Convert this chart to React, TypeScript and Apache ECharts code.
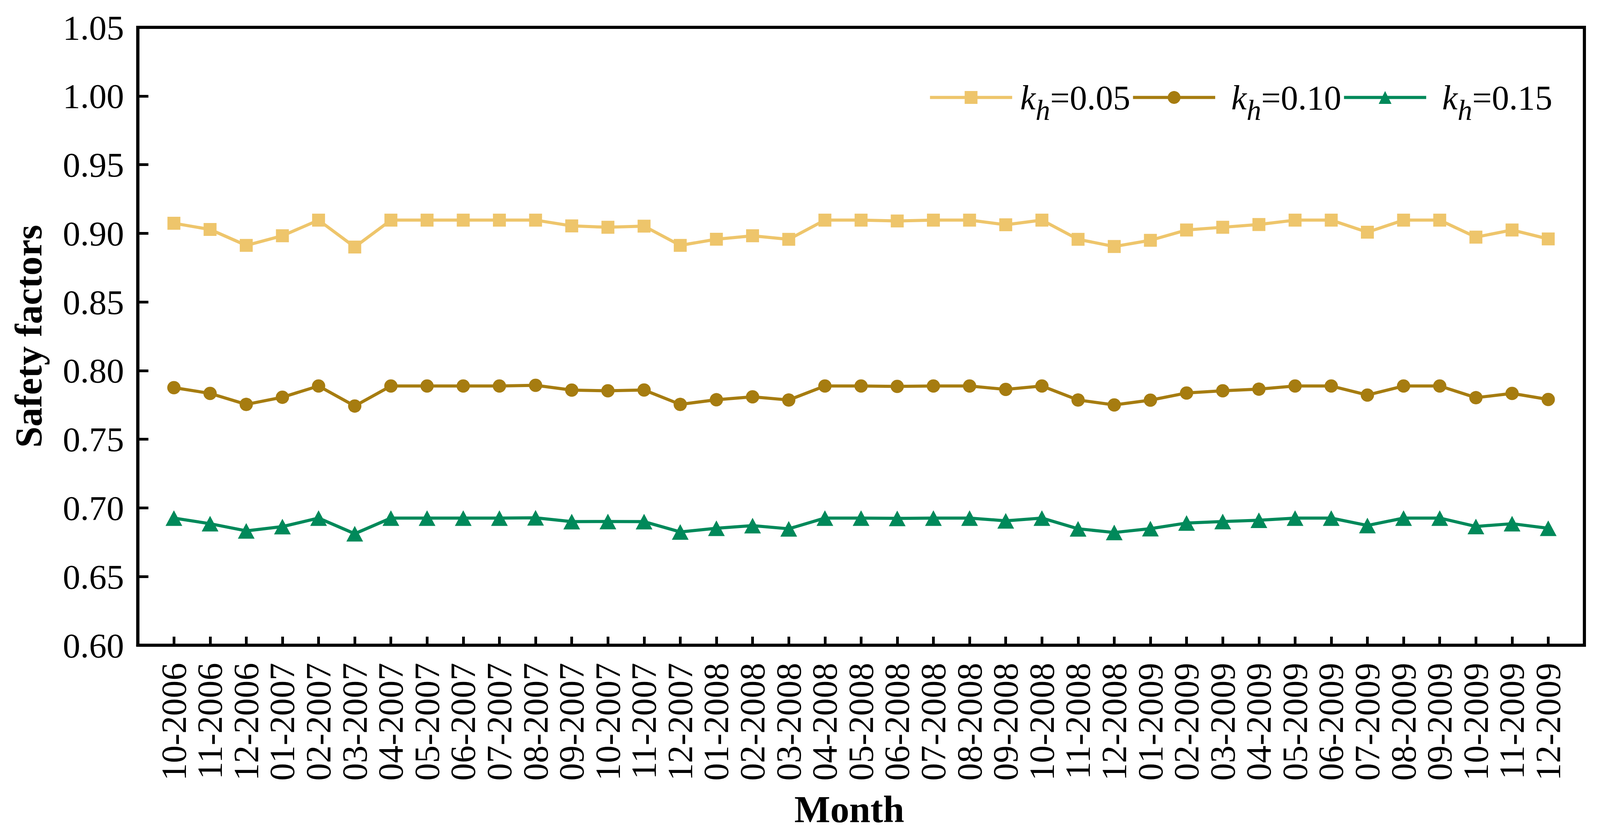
import React, { useEffect, useRef, useState } from "react";
import * as echarts from "echarts";

const months = [
  "10-2006", "11-2006", "12-2006",
  "01-2007", "02-2007", "03-2007", "04-2007", "05-2007", "06-2007", "07-2007", "08-2007", "09-2007", "10-2007", "11-2007", "12-2007",
  "01-2008", "02-2008", "03-2008", "04-2008", "05-2008", "06-2008", "07-2008", "08-2008", "09-2008", "10-2008", "11-2008", "12-2008",
  "01-2009", "02-2009", "03-2009", "04-2009", "05-2009", "06-2009", "07-2009", "08-2009", "09-2009", "10-2009", "11-2009", "12-2009",
];

const kh005 = [
  0.9073, 0.9028, 0.8912, 0.8982, 0.9096, 0.8900, 0.9096, 0.9096, 0.9096, 0.9096, 0.9096, 0.9054, 0.9044, 0.9052, 0.8912,
  0.8957, 0.8982, 0.8956, 0.9096, 0.9096, 0.9090, 0.9096, 0.9096, 0.9062, 0.9096, 0.8956, 0.8904,
  0.8949, 0.9024, 0.9044, 0.9064, 0.9096, 0.9096, 0.9008, 0.9096, 0.9096, 0.8972, 0.9024, 0.8959,
];

const kh010 = [
  0.7876, 0.7834, 0.7754, 0.7806, 0.7888, 0.7742, 0.7888, 0.7888, 0.7888, 0.7888, 0.7893, 0.7858, 0.7853, 0.7859, 0.7754,
  0.7788, 0.7809, 0.7786, 0.7888, 0.7888, 0.7885, 0.7888, 0.7888, 0.7863, 0.7888, 0.7786, 0.7750,
  0.7785, 0.7837, 0.7853, 0.7865, 0.7888, 0.7888, 0.7822, 0.7888, 0.7888, 0.7803, 0.7834, 0.7790,
];

const kh015 = [
  0.6926, 0.6885, 0.6833, 0.6864, 0.6926, 0.6812, 0.6926, 0.6926, 0.6926, 0.6926, 0.6928, 0.6900, 0.6901, 0.6900, 0.6825,
  0.6852, 0.6871, 0.6848, 0.6926, 0.6926, 0.6924, 0.6926, 0.6926, 0.6906, 0.6926, 0.6848, 0.6821,
  0.6849, 0.6890, 0.6901, 0.6910, 0.6926, 0.6926, 0.6872, 0.6926, 0.6926, 0.6865, 0.6885, 0.6852,
];

const khLabels = ["0.05", "0.10", "0.15"];
const seriesColors = ["#EEC56B", "#A67C10", "#00895A"];
const seriesSymbols = ["rect", "circle", "triangle"];

const yTicks = { min: 0.6, max: 1.05, step: 0.05 };

const FONT = "'Liberation Serif', 'Times New Roman', serif";
const REF_W = 4205;
const REF_H = 2143;

export default function App() {
  const ref = useRef<HTMLDivElement>(null);
  const [size] = useState(() => ({
    w: Math.min(REF_W, window.innerWidth || REF_W),
    h: Math.min(REF_H, window.innerHeight || REF_H),
  }));

  useEffect(() => {
    if (!ref.current) return;
    const chart = echarts.init(ref.current, null, { renderer: "svg" });
    const sx = size.w / REF_W;
    const sy = size.h / REF_H;
    const fs = (n: number) => Math.round(n * sx * 10) / 10;
    const allData = [kh005, kh010, kh015];
    const names = khLabels.map((k) => "kh=" + k);
    const symbolSizes: any[] = [34 * sx, 35 * sx, [44 * sx, 40 * sy]];

    const series = allData.map((arr, si) => ({
      name: names[si],
      type: "line",
      data: arr.map((v, i) => [i, v]),
      symbol: seriesSymbols[si],
      symbolSize: symbolSizes[si],
      showAllSymbol: true,
      lineStyle: { color: seriesColors[si], width: 8 },
      itemStyle: { color: seriesColors[si] },
      z: 3 + si,
    }));

    const legendText = {
      fontFamily: FONT,
      fontSize: fs(91),
      color: "#000",
    };

    chart.setOption({
      animation: false,
      backgroundColor: "#ffffff",
      grid: {
        left: 362 * sx,
        right: 41 * sx,
        top: 70 * sy,
        bottom: 491 * sy,
        show: true,
        borderColor: "#000",
        borderWidth: 8,
        containLabel: false,
      },
      legend: {
        left: 2440 * sx,
        top: 205 * sy,
        padding: 0,
        itemGap: 3 * sx,
        itemWidth: 216 * sx,
        itemHeight: 41 * sy,
        lineStyle: { width: 8 },
        data: names,
        formatter: (name: string) => {
          const idx = names.indexOf(name);
          const gap = idx === 0 ? "g1" : "g2";
          return "{" + gap + "|}{i|k}{s|h}{n|=" + khLabels[idx] + "}";
        },
        textStyle: {
          ...legendText,
          rich: {
            g1: { width: 16 * sx, fontSize: fs(91), fontFamily: FONT },
            g2: { width: 37 * sx, fontSize: fs(91), fontFamily: FONT },
            i: { ...legendText, fontStyle: "italic" },
            s: { ...legendText, fontStyle: "italic", fontSize: fs(77), padding: [64 * sy, 0, 0, 0] },
            n: { ...legendText },
          },
        },
      },
      xAxis: {
        type: "value",
        min: -1,
        max: months.length,
        interval: 1,
        axisLine: { show: true, onZero: false, lineStyle: { color: "#000", width: 8 } },
        axisTick: { show: true, inside: true, length: 22 * sy, lineStyle: { color: "#000", width: 7 } },
        splitLine: { show: false },
        axisLabel: {
          rotate: 90,
          margin: 45 * sy,
          color: "#000",
          fontFamily: FONT,
          fontSize: fs(93),
          formatter: (v: number) => {
            const i = Math.round(v);
            return i >= 0 && i < months.length ? months[i] : "";
          },
        },
      },
      yAxis: {
        type: "value",
        min: yTicks.min,
        max: yTicks.max,
        interval: yTicks.step,
        axisLine: { show: true, onZero: false, lineStyle: { color: "#000", width: 8 } },
        axisTick: { show: true, inside: true, length: 28 * sx, lineStyle: { color: "#000", width: 7 } },
        splitLine: { show: false },
        axisLabel: {
          margin: 36 * sx,
          color: "#000",
          fontFamily: FONT,
          fontSize: fs(92),
          formatter: (v: number) => v.toFixed(2),
        },
      },
      graphic: [
        {
          type: "text",
          x: 75 * sx,
          y: 861 * sy,
          rotation: Math.PI / 2,
          style: {
            text: "Safety factors",
            fontFamily: FONT,
            fontWeight: "bold",
            fontSize: fs(100),
            fill: "#000",
            align: "center",
            verticalAlign: "middle",
          },
        },
        {
          type: "text",
          x: 2232 * sx,
          y: 2072 * sy,
          style: {
            text: "Month",
            fontFamily: FONT,
            fontWeight: "bold",
            fontSize: fs(100),
            fill: "#000",
            align: "center",
            verticalAlign: "middle",
          },
        },
      ],
      series,
    });

    return () => chart.dispose();
  }, [size]);

  return (
    <div
      ref={ref}
      style={{ position: "absolute", left: 0, top: 0, width: size.w, height: size.h, background: "#fff" }}
    />
  );
}
